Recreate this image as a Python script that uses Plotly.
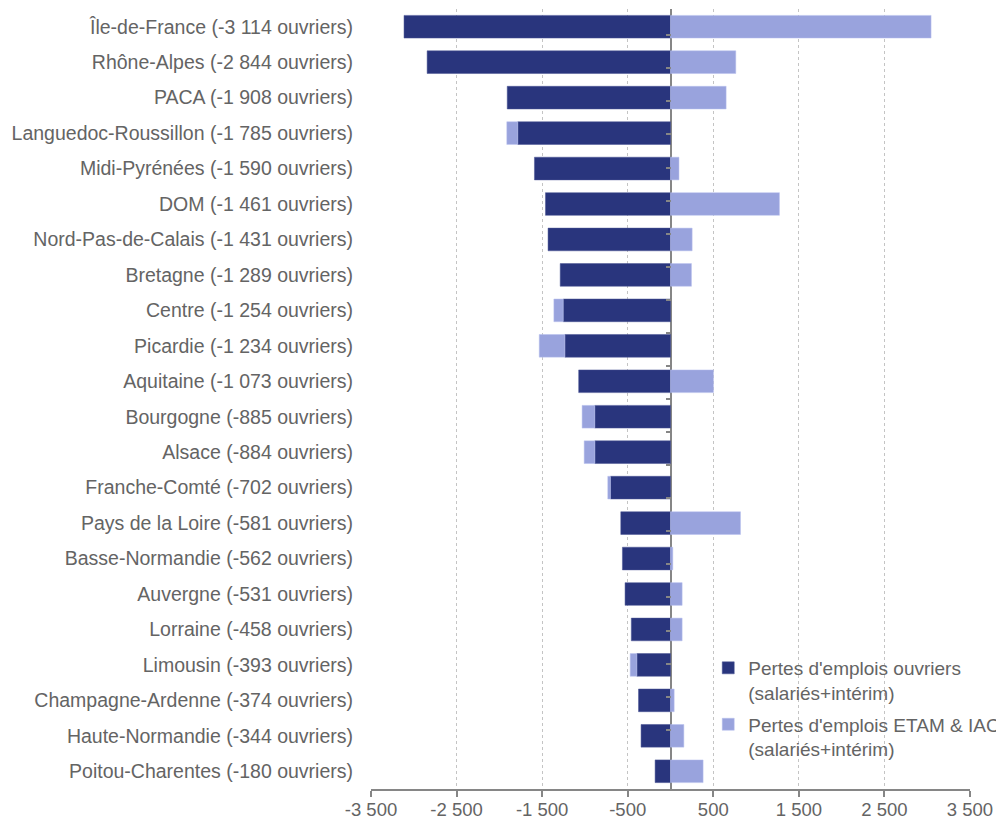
import plotly.graph_objects as go

regions = ["Île-de-France", "Rhône-Alpes", "PACA", "Languedoc-Roussillon", "Midi-Pyrénées",
           "DOM", "Nord-Pas-de-Calais", "Bretagne", "Centre", "Picardie", "Aquitaine",
           "Bourgogne", "Alsace", "Franche-Comté", "Pays de la Loire", "Basse-Normandie",
           "Auvergne", "Lorraine", "Limousin", "Champagne-Ardenne", "Haute-Normandie",
           "Poitou-Charentes"]
ouvriers = [-3114, -2844, -1908, -1785, -1590, -1461, -1431, -1289, -1254, -1234, -1073,
            -885, -884, -702, -581, -562, -531, -458, -393, -374, -344, -180]
etam_iac = [3045, 763, 650, -128, 99, 1273, 253, 245, -109, -300, 502,
            -148, -125, -31, 818, 27, 136, 136, -78, 43, 156, 381]
tick_vals = [-3500, -2500, -1500, -500, 500, 1500, 2500, 3500]
tick_text = ["-3 500", "-2 500", "-1 500", "-500", "500", "1 500", "2 500", "3 500"]


def fmt(v):
    s = f"{abs(v):,}".replace(",", " ")
    return ("-" if v < 0 else "") + s


labels = [f"{r} ({fmt(v)} ouvriers)" for r, v in zip(regions, ouvriers)]

GRAY = "#646464"
AX = "#868686"
DARK = "#29357D"
LIGHT = "#99A3DD"

fig = go.Figure()
fig.add_trace(go.Bar(
    y=labels, x=ouvriers, orientation="h", name="Pertes d'emplois ouvriers<br>(salariés+intérim)",
    marker=dict(color=DARK, line=dict(color="#4a5595", width=0.5)), legendgroup="a",
))
fig.add_trace(go.Bar(
    y=labels, x=etam_iac, orientation="h", name="Pertes d'emplois ETAM & IAC<br>(salariés+intérim)",
    marker=dict(color=LIGHT, line=dict(color="#b8c0ee", width=0.5)), legendgroup="b",
))
# invisible trace to carry the category tick marks on the zero line
fig.add_trace(go.Scatter(
    y=labels, x=[0] * len(labels), yaxis="y2", mode="markers",
    marker=dict(opacity=0), showlegend=False, hoverinfo="skip",
))

fig.update_layout(
    width=1004, height=822,
    barmode="relative", bargap=0.36,
    plot_bgcolor="white", paper_bgcolor="white",
    margin=dict(l=363, r=42, t=1, b=41),
    font=dict(family="Liberation Sans, Arial, sans-serif", size=19, color=GRAY),
    xaxis=dict(
        range=[-3500, 3500], tickmode="array", tickvals=tick_vals, ticktext=tick_text,
        showgrid=True, gridcolor="#c4c4c4", griddash="dot", gridwidth=1,
        zeroline=True, zerolinecolor=AX, zerolinewidth=2,
        showline=True, linecolor=AX, linewidth=2,
        ticks="",
        minor=dict(tickmode="array", tickvals=tick_vals, ticks="outside", ticklen=6,
                   tickcolor=AX, tickwidth=2, showgrid=False),
        ticklabelstandoff=3,
        tickfont=dict(size=18.5, color=GRAY),
    ),
    yaxis=dict(
        autorange="reversed", type="category", showgrid=False, showline=False,
        ticks="", ticklabelstandoff=17, tickfont=dict(size=19.5, color=GRAY),
    ),
    yaxis2=dict(
        overlaying="y", anchor="free", position=0.5, side="left", type="category",
        categoryorder="array", categoryarray=labels, autorange="reversed",
        tickson="boundaries", ticks="outside", ticklen=5, tickcolor=AX, tickwidth=2,
        showticklabels=False, showgrid=False, showline=False, zeroline=False,
    ),
    legend=dict(
        x=0.563, y=0.1795, xanchor="left", yanchor="top", valign="top",
        bgcolor="rgba(0,0,0,0)", font=dict(size=19, color=GRAY),
        traceorder="grouped", tracegroupgap=4, itemwidth=30,
    ),
)

fig.write_html("out.html")
